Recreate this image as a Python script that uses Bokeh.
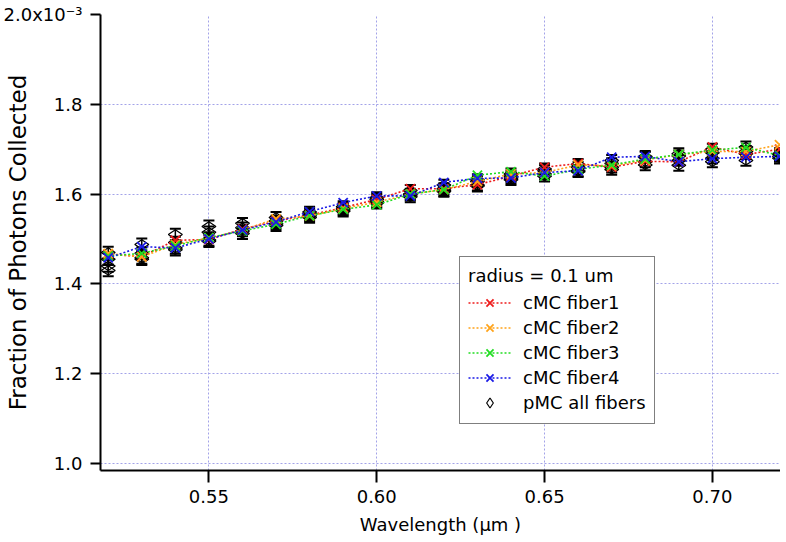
import numpy as np
from bokeh.plotting import figure
from bokeh.models import (ColumnDataSource, Whisker, TeeHead, Legend, LegendItem,
                          FixedTicker, Range1d)
from bokeh.embed import file_html
from bokeh.resources import INLINE

# ---------------- data (values in units of 1e-3) ----------------
wavelength = [0.52, 0.53, 0.54, 0.55, 0.56, 0.57, 0.58, 0.59, 0.60, 0.61, 0.62,
              0.63, 0.64, 0.65, 0.66, 0.67, 0.68, 0.69, 0.70, 0.71, 0.72]

cmc_fiber1 = [1.466, 1.461, 1.497, 1.499, 1.522, 1.540, 1.553, 1.570, 1.588, 1.612, 1.612,
              1.621, 1.640, 1.660, 1.668, 1.660, 1.673, 1.672, 1.705, 1.688, 1.700]
cmc_fiber2 = [1.468, 1.460, 1.488, 1.502, 1.520, 1.545, 1.551, 1.568, 1.582, 1.600, 1.610,
              1.628, 1.645, 1.648, 1.665, 1.663, 1.676, 1.688, 1.695, 1.695, 1.710]
cmc_fiber3 = [1.462, 1.468, 1.485, 1.503, 1.518, 1.533, 1.552, 1.566, 1.576, 1.600, 1.610,
              1.642, 1.650, 1.640, 1.655, 1.665, 1.678, 1.688, 1.698, 1.704, 1.686]
cmc_fiber4 = [1.458, 1.483, 1.480, 1.500, 1.520, 1.538, 1.561, 1.581, 1.596, 1.596, 1.626,
              1.635, 1.636, 1.648, 1.652, 1.682, 1.684, 1.672, 1.679, 1.682, 1.684]

pmc_fiber1 = [1.470, 1.488, 1.510, 1.528, 1.535, 1.548, 1.560, 1.572, 1.592, 1.608, 1.620,
              1.628, 1.645, 1.656, 1.666, 1.675, 1.682, 1.690, 1.700, 1.705, 1.690]
pmc_fiber2 = [1.455, 1.468, 1.492, 1.515, 1.525, 1.540, 1.556, 1.568, 1.588, 1.600, 1.612,
              1.632, 1.640, 1.652, 1.660, 1.668, 1.684, 1.685, 1.692, 1.695, 1.688]
pmc_fiber3 = [1.440, 1.458, 1.480, 1.498, 1.518, 1.534, 1.552, 1.565, 1.583, 1.598, 1.608,
              1.620, 1.636, 1.645, 1.652, 1.660, 1.672, 1.675, 1.680, 1.690, 1.684]
pmc_fiber4 = [1.430, 1.455, 1.476, 1.495, 1.512, 1.530, 1.548, 1.562, 1.580, 1.594, 1.606,
              1.618, 1.632, 1.640, 1.650, 1.655, 1.665, 1.664, 1.672, 1.675, 1.680]
pmc_err = [0.013, 0.013, 0.013, 0.013, 0.012, 0.012, 0.012, 0.012, 0.012, 0.012, 0.012,
           0.012, 0.012, 0.012, 0.012, 0.012, 0.012, 0.012, 0.012, 0.012, 0.012]

cmc_labels = ["cMC fiber1", "cMC fiber2", "cMC fiber3", "cMC fiber4"]
pmc_label = "pMC all fibers"
legend_title = "radius = 0.1 um"

x_ticks = [0.55, 0.60, 0.65, 0.70]
x_tick_labels = ["0.55", "0.60", "0.65", "0.70"]
y_ticks = [1.0, 1.2, 1.4, 1.6, 1.8, 2.0]
y_tick_labels = ["1.0", "1.2", "1.4", "1.6", "1.8", "2.0x10\u207b\u00b3"]

# ---------------- styling ----------------
FONT = "DejaVu Sans"
colors = ["#ee1c1c", "#ffa31a", "#22dd22", "#1a1ae6"]
grid_color = "#a3a3e8"

X0, X1 = 0.5177, 0.7203
Y0, Y1 = 0.9844, 2.0

p = figure(width=780, height=540, output_backend="svg", toolbar_location=None,
           x_range=Range1d(X0, X1), y_range=Range1d(Y0, Y1),
           min_border_left=100, min_border_right=0, min_border_top=14, min_border_bottom=70)
p.outline_line_color = None
p.background_fill_color = "white"
p.border_fill_color = "white"

# axes
xt = FixedTicker(ticks=x_ticks, minor_ticks=[])
yt = FixedTicker(ticks=y_ticks, minor_ticks=[])
p.xaxis.ticker = xt
p.yaxis.ticker = yt
p.xgrid.ticker = xt
p.ygrid.ticker = yt
p.xaxis.major_label_overrides = dict(zip(x_ticks, x_tick_labels))
p.yaxis.major_label_overrides = dict(zip(y_ticks, y_tick_labels))

for ax in (p.xaxis[0], p.yaxis[0]):
    ax.axis_line_color = "black"
    ax.axis_line_width = 2
    ax.major_tick_line_color = "black"
    ax.major_tick_line_width = 2
    ax.major_tick_in = 0
    ax.minor_tick_in = 0
    ax.minor_tick_out = 0
    ax.major_label_text_font = FONT
    ax.major_label_text_font_size = "18px"
    ax.major_label_text_color = "black"
    ax.axis_label_text_font = FONT
    ax.axis_label_text_font_style = "normal"
    ax.axis_label_text_color = "black"

p.xaxis.major_tick_out = 12
p.xaxis.major_label_standoff = 7
p.xaxis.axis_label = "Wavelength (µm )"
p.xaxis.axis_label_text_font_size = "18px"
p.xaxis.axis_label_standoff = 8

p.yaxis.major_tick_out = 10
p.yaxis.major_label_standoff = 8
p.yaxis.axis_label = "Fraction of Photons Collected"
p.yaxis.axis_label_text_font_size = "23px"
p.yaxis.axis_label_standoff = -30

p.grid.grid_line_color = grid_color
p.grid.grid_line_dash = "2 2"
p.grid.grid_line_width = 1

# pMC series: black hollow diamonds with error bars
pmc_series = [pmc_fiber1, pmc_fiber2, pmc_fiber3, pmc_fiber4]
diamond_renderers = []
for ys in pmc_series:
    src = ColumnDataSource(dict(
        x=wavelength, y=ys,
        upper=[v + e for v, e in zip(ys, pmc_err)],
        lower=[v - e for v, e in zip(ys, pmc_err)]))
    w = Whisker(source=src, base="x", upper="upper", lower="lower",
                line_color="black", line_width=1.5, level="underlay",
                upper_head=TeeHead(size=11, line_color="black", line_width=2),
                lower_head=TeeHead(size=11, line_color="black", line_width=2))
    p.add_layout(w)
    r = p.scatter("x", "y", source=src, marker="diamond", size=14, angle=np.pi / 2,
                  fill_alpha=0, line_color="black", line_width=1.2)
    diamond_renderers.append(r)

# cMC series: dotted coloured lines with x markers
cmc_series = [cmc_fiber1, cmc_fiber2, cmc_fiber3, cmc_fiber4]
items = []
for ys, c, lab in zip(cmc_series, colors, cmc_labels):
    src = ColumnDataSource(dict(x=wavelength, y=ys))
    ln = p.line("x", "y", source=src, line_color=c, line_width=1.6, line_dash="2 2")
    sc = p.scatter("x", "y", source=src, marker="x", size=13, line_color=c, line_width=1.8)
    items.append(LegendItem(label=lab, renderers=[ln, sc]))
items.append(LegendItem(label=pmc_label, renderers=[diamond_renderers[0]]))

legend = Legend(items=items, location=(359, 46), title=legend_title,
                title_text_font=FONT, title_text_font_size="18px",
                title_text_font_style="normal", title_text_color="black",
                title_standoff=4,
                label_text_font=FONT, label_text_font_size="18px", label_text_color="black",
                glyph_width=43, glyph_height=25, label_height=25, label_standoff=12,
                spacing=0, padding=8, margin=0,
                border_line_color="black", border_line_width=1.5,
                background_fill_color="white", background_fill_alpha=1.0)
p.add_layout(legend)

open("out.html", "w").write(file_html(p, INLINE))
